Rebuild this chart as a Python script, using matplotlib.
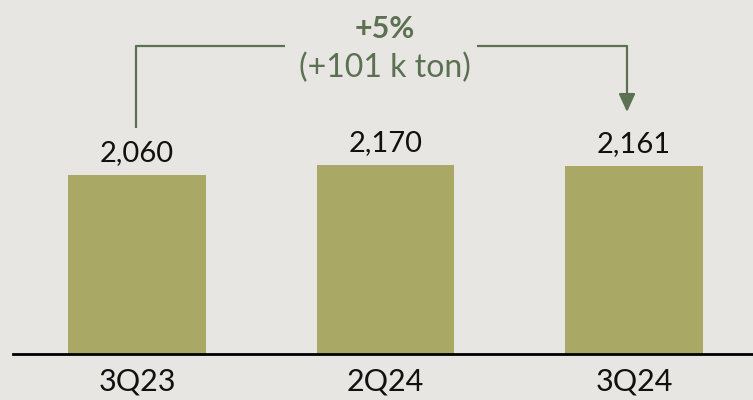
import matplotlib
matplotlib.use("Agg")
import matplotlib.pyplot as plt

categories = ["3Q23", "2Q24", "3Q24"]
values = [2060, 2170, 2161]
value_labels = ["2,060", "2,170", "2,161"]
change_pct = "+5%"
change_abs = "(+101 k ton)"

bg = "#e8e6e3"
bar_color = "#a9a965"
note_color = "#5b7152"

plt.rcParams["font.family"] = ["Lato", "DejaVu Sans"]

fig = plt.figure(figsize=(7.53, 4.0), dpi=100, facecolor=bg)
ax = fig.add_axes([13 / 753, 46 / 400, 740 / 753, 354 / 400])
ax.set_facecolor(bg)

x = list(range(len(categories)))
ax.bar(x, values, width=0.555, color=bar_color, zorder=2)
ax.set_xlim(-0.499, 2.479)
ax.set_ylim(0, 4074)

for i, v in enumerate(values):
    ax.text(i, v + 161, value_labels[i], ha="center", va="baseline",
            fontsize=21, color="#111111")

for s in ["top", "right", "left"]:
    ax.spines[s].set_visible(False)
ax.spines["bottom"].set_linewidth(2)
ax.spines["bottom"].set_color("black")
ax.set_yticks([])
ax.set_xticks(x)
ax.set_xticklabels(categories, fontsize=22, color="#111111")
ax.tick_params(axis="x", length=0, pad=10)

# bracket from first to last bar
y_top = 3545
x0, x1 = -0.004, 1.972
ax.plot([x0, x0, 0.594], [2600, y_top, y_top], color=note_color, lw=1.6,
        solid_capstyle="butt", clip_on=False)
ax.plot([1.37, x1, x1], [y_top, y_top, 2950], color=note_color, lw=1.6,
        solid_capstyle="butt", clip_on=False)
ax.annotate("", xy=(x1, 2785), xytext=(x1, 2960),
            arrowprops=dict(arrowstyle="-|>,head_width=0.5,head_length=1.1",
                            color=note_color, lw=1.6, shrinkA=0, shrinkB=0))
ax.text(0.998, 3637, change_pct, ha="center", va="baseline", fontsize=22,
        fontweight="bold", color=note_color)
ax.text(0.998, 3188, change_abs, ha="center", va="baseline", fontsize=23,
        color=note_color)

fig.savefig("out.png", dpi=100, facecolor=bg)
